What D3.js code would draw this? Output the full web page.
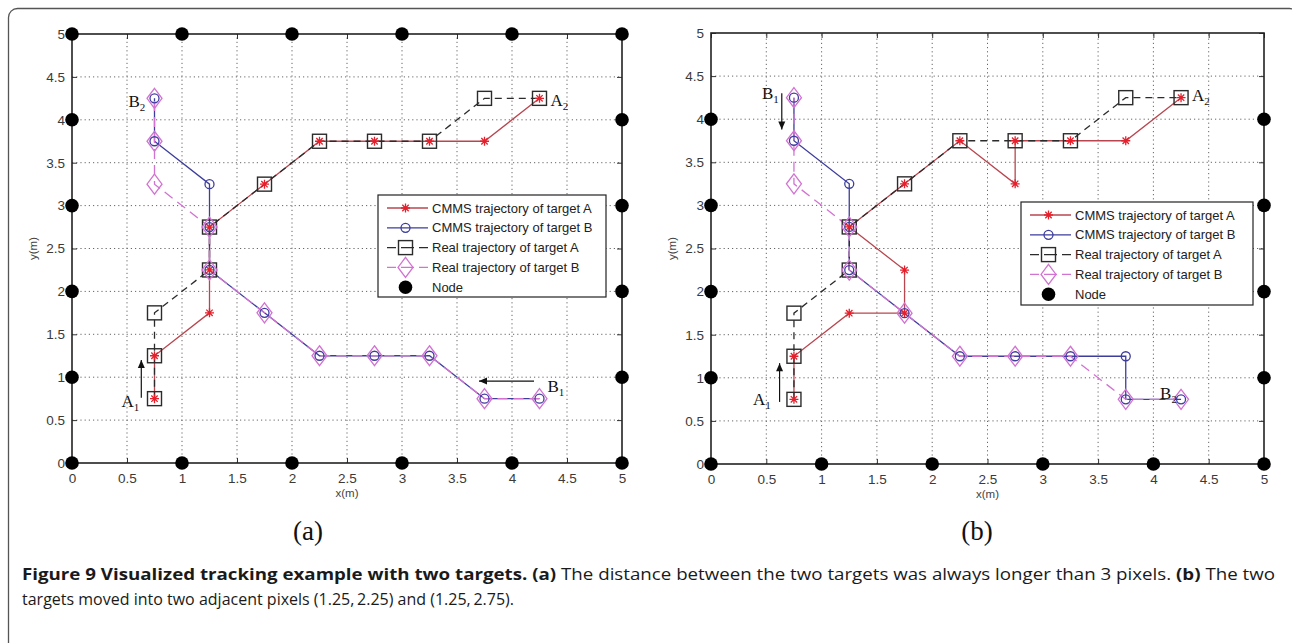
<!DOCTYPE html>
<html>
<head>
<meta charset="utf-8">
<script src="https://cdn.jsdelivr.net/npm/d3@7"></script>
<style>
  body { margin: 0; background: #fff; }
  svg { display: block; }
</style>
</head>
<body>
<svg id="fig" width="1292" height="643"></svg>
<script>
// axis ticks shared by both panels
const tickValues = [0, 0.5, 1, 1.5, 2, 2.5, 3, 3.5, 4, 4.5, 5];
const tickLabels = ['0', '0.5', '1', '1.5', '2', '2.5', '3', '3.5', '4', '4.5', '5'];
const legendLabels = [
  'CMMS trajectory of target A',
  'CMMS trajectory of target B',
  'Real trajectory of target A',
  'Real trajectory of target B',
  'Node'
];

// panel (a)
const realA_a = [[0.75, 0.75], [0.75, 1.25], [0.75, 1.75], [1.25, 2.25], [1.25, 2.75], [1.75, 3.25],
  [2.25, 3.75], [2.75, 3.75], [3.25, 3.75], [3.75, 4.25], [4.25, 4.25]];
const cmmsA_a = [[0.75, 0.75], [0.75, 1.25], [1.25, 1.75], [1.25, 2.25], [1.25, 2.75], [1.75, 3.25],
  [2.25, 3.75], [2.75, 3.75], [3.25, 3.75], [3.75, 3.75], [4.25, 4.25]];
const realB_a = [[4.25, 0.75], [3.75, 0.75], [3.25, 1.25], [2.75, 1.25], [2.25, 1.25], [1.75, 1.75],
  [1.25, 2.25], [1.25, 2.75], [0.75, 3.25], [0.75, 3.75], [0.75, 4.25]];
const cmmsB_a = [[4.25, 0.75], [3.75, 0.75], [3.25, 1.25], [2.75, 1.25], [2.25, 1.25], [1.75, 1.75],
  [1.25, 2.25], [1.25, 2.75], [1.25, 3.25], [0.75, 3.75], [0.75, 4.25]];
const nodes_a = [[0, 0], [1, 0], [2, 0], [3, 0], [4, 0], [5, 0],
  [0, 1], [0, 2], [0, 3], [0, 4], [5, 1], [5, 2], [5, 3], [5, 4],
  [0, 5], [1, 5], [2, 5], [3, 5], [4, 5], [5, 5]];

// panel (b)
const realA_b = [[0.75, 0.75], [0.75, 1.25], [0.75, 1.75], [1.25, 2.25], [1.25, 2.75], [1.75, 3.25],
  [2.25, 3.75], [2.75, 3.75], [3.25, 3.75], [3.75, 4.25], [4.25, 4.25]];
const cmmsA_b = [[0.75, 0.75], [0.75, 1.25], [1.25, 1.75], [1.75, 1.75], [1.75, 2.25], [1.25, 2.75],
  [1.75, 3.25], [2.25, 3.75], [2.75, 3.25], [2.75, 3.75], [3.25, 3.75], [3.75, 3.75], [4.25, 4.25]];
const realB_b = [[0.75, 4.25], [0.75, 3.75], [0.75, 3.25], [1.25, 2.75], [1.25, 2.25], [1.75, 1.75],
  [2.25, 1.25], [2.75, 1.25], [3.25, 1.25], [3.75, 0.75], [4.25, 0.75]];
const cmmsB_b = [[0.75, 4.25], [0.75, 3.75], [1.25, 3.25], [1.25, 2.75], [1.25, 2.25], [1.75, 1.75],
  [2.25, 1.25], [2.75, 1.25], [3.25, 1.25], [3.75, 1.25], [3.75, 0.75], [4.25, 0.75]];
const nodes_b = [[0, 0], [1, 0], [2, 0], [3, 0], [4, 0], [5, 0],
  [0, 1], [0, 2], [0, 3], [0, 4], [5, 1], [5, 2], [5, 3], [5, 4]];

const COL = {
  cmmsALine: '#b9464f',
  cmmsAMark: '#e5202c',
  cmmsB: '#3d3d9c',
  realA: '#2b2b2b',
  realB: '#d273d2'
};

const svg = d3.select('#fig');

// outer rounded frame of the figure
svg.append('rect')
  .attr('x', 8.5).attr('y', 8.5)
  .attr('width', 1290).attr('height', 700)
  .attr('rx', 9)
  .attr('fill', 'none')
  .attr('stroke', '#555')
  .attr('stroke-width', 1.3);

// marker helpers
function asterisk(sel, size) {
  const s = size, d = s * 0.71;
  return sel.append('path')
    .attr('d', `M0,${-s}V${s}M${-s},0H${s}M${-d},${-d}L${d},${d}M${-d},${d}L${d},${-d}`);
}

function drawMarker(g, type, x, y) {
  const m = g.append('g').attr('transform', `translate(${x},${y})`);
  if (type === 'cmmsA') {
    asterisk(m, 4.5).attr('stroke', COL.cmmsAMark).attr('stroke-width', 1.3).attr('fill', 'none');
  } else if (type === 'cmmsB') {
    m.append('circle').attr('r', 4.5).attr('fill', 'none').attr('stroke', COL.cmmsB).attr('stroke-width', 1.3);
  } else if (type === 'realA') {
    m.append('rect').attr('x', -7).attr('y', -7).attr('width', 14).attr('height', 14)
      .attr('fill', 'none').attr('stroke', COL.realA).attr('stroke-width', 1.4);
  } else if (type === 'realB') {
    m.append('path').attr('d', 'M0,-10L7.5,0L0,10L-7.5,0Z')
      .attr('fill', 'none').attr('stroke', COL.realB).attr('stroke-width', 1.3);
  } else if (type === 'node') {
    m.append('circle').attr('r', 6.8).attr('fill', '#000');
  }
}

const seriesStyle = {
  cmmsA: { stroke: COL.cmmsALine, dash: null },
  cmmsB: { stroke: COL.cmmsB, dash: null },
  realA: { stroke: COL.realA, dash: '7,5' },
  realB: { stroke: COL.realB, dash: '10,6' }
};

function drawPanel(cfg) {
  const x = d3.scaleLinear().domain([0, 5]).range([cfg.left, cfg.right]);
  const y = d3.scaleLinear().domain([0, 5]).range([cfg.bottom, cfg.top]);
  const g = svg.append('g');

  // dotted grid
  g.append('g').selectAll('line.gx')
    .data(tickValues.filter(v => v > 0 && v < 5))
    .join('line')
    .attr('x1', d => x(d)).attr('x2', d => x(d))
    .attr('y1', y(0)).attr('y2', y(5))
    .attr('stroke', '#666').attr('stroke-width', 1).attr('stroke-dasharray', '1.2,3');
  g.append('g').selectAll('line.gy')
    .data(tickValues.filter(v => v > 0 && v < 5))
    .join('line')
    .attr('y1', d => y(d)).attr('y2', d => y(d))
    .attr('x1', x(0)).attr('x2', x(5))
    .attr('stroke', '#666').attr('stroke-width', 1).attr('stroke-dasharray', '1.2,3');

  // axes with inward ticks on all four sides
  const axisFont = g => g.selectAll('text')
    .attr('font-family', 'Liberation Sans, Arial, sans-serif')
    .attr('font-size', 13.5).attr('fill', '#3a3a3a');
  const bottom = g.append('g').attr('transform', `translate(0,${y(0)})`)
    .call(d3.axisBottom(x).tickValues(tickValues).tickFormat((d, i) => tickLabels[i])
      .tickSizeInner(-5).tickSizeOuter(0).tickPadding(10));
  const left = g.append('g').attr('transform', `translate(${x(0)},0)`)
    .call(d3.axisLeft(y).tickValues(tickValues).tickFormat((d, i) => tickLabels[i])
      .tickSizeInner(-5).tickSizeOuter(0).tickPadding(7));
  const top = g.append('g').attr('transform', `translate(0,${y(5)})`)
    .call(d3.axisTop(x).tickValues(tickValues).tickFormat('').tickSizeInner(-5).tickSizeOuter(0));
  const right = g.append('g').attr('transform', `translate(${x(5)},0)`)
    .call(d3.axisRight(y).tickValues(tickValues).tickFormat('').tickSizeInner(-5).tickSizeOuter(0));
  [bottom, left, top, right].forEach(a => {
    a.select('.domain').remove();
    a.selectAll('line').attr('stroke', '#333');
    axisFont(a);
  });
  g.append('rect')
    .attr('x', x(0)).attr('y', y(5))
    .attr('width', x(5) - x(0)).attr('height', y(0) - y(5))
    .attr('fill', 'none').attr('stroke', '#222').attr('stroke-width', 1.6);

  g.append('text')
    .attr('x', (x(0) + x(5)) / 2).attr('y', y(0) + 34)
    .attr('text-anchor', 'middle')
    .attr('font-family', 'Liberation Sans, Arial, sans-serif').attr('font-size', 11.5).attr('fill', '#444')
    .text('x(m)');
  g.append('text')
    .attr('transform', `translate(${x(0) - 35},${(y(0) + y(5)) / 2}) rotate(-90)`)
    .attr('text-anchor', 'middle')
    .attr('font-family', 'Liberation Sans, Arial, sans-serif').attr('font-size', 11.5).attr('fill', '#444')
    .text('y(m)');

  // trajectories
  const line = d3.line().x(d => x(d[0])).y(d => y(d[1]));
  const order = ['cmmsA', 'cmmsB', 'realA', 'realB'];
  order.forEach(key => {
    const st = seriesStyle[key];
    g.append('path')
      .attr('d', line(cfg.series[key]))
      .attr('fill', 'none')
      .attr('stroke', st.stroke)
      .attr('stroke-width', 1.3)
      .attr('stroke-dasharray', st.dash);
  });
  order.forEach(key => {
    cfg.series[key].forEach(p => drawMarker(g, key, x(p[0]), y(p[1])));
  });

  // sensor nodes
  cfg.nodes.forEach(p => drawMarker(g, 'node', x(p[0]), y(p[1])));

  // legend
  const lg = g.append('g');
  lg.append('rect')
    .attr('x', cfg.legend.x).attr('y', cfg.legend.y)
    .attr('width', cfg.legend.w).attr('height', cfg.legend.h)
    .attr('fill', '#fff').attr('stroke', '#222').attr('stroke-width', 1.2);
  const keys = ['cmmsA', 'cmmsB', 'realA', 'realB', 'node'];
  keys.forEach((key, i) => {
    const ry = cfg.legend.y + 13 + i * 19.8;
    const lx0 = cfg.legend.x + 9, lx1 = cfg.legend.x + 50;
    if (key !== 'node') {
      lg.append('line')
        .attr('x1', lx0).attr('x2', lx1).attr('y1', ry).attr('y2', ry)
        .attr('stroke', seriesStyle[key].stroke).attr('stroke-width', 1.3)
        .attr('stroke-dasharray', seriesStyle[key].dash ? '9,5,13,5' : null);
    }
    drawMarker(lg, key, (lx0 + lx1) / 2 - 2, ry);
    lg.append('text')
      .attr('x', cfg.legend.x + 54).attr('y', ry + 4.5)
      .attr('font-family', 'Liberation Sans, Arial, sans-serif')
      .attr('font-size', 13).attr('fill', '#222')
      .text(legendLabels[i]);
  });

  // start / end annotations
  cfg.notes.forEach(n => {
    const t = g.append('text')
      .attr('x', x(n.at[0]) + n.dx).attr('y', y(n.at[1]) + n.dy)
      .attr('font-family', 'Liberation Serif, Times New Roman, serif')
      .attr('font-size', 17).attr('fill', '#111');
    t.append('tspan').text(n.label);
    t.append('tspan').attr('font-size', 11).attr('dy', 4).text(n.sub);
  });
  cfg.arrows.forEach(a => {
    const x1 = x(a.from[0]), y1 = y(a.from[1]), x2 = x(a.to[0]), y2 = y(a.to[1]);
    g.append('line').attr('x1', x1).attr('y1', y1).attr('x2', x2).attr('y2', y2)
      .attr('stroke', '#111').attr('stroke-width', 1.2);
    const ang = Math.atan2(y2 - y1, x2 - x1);
    const L = 8, W = 3.5;
    const bx = x2 - L * Math.cos(ang), by = y2 - L * Math.sin(ang);
    g.append('path')
      .attr('d', `M${x2},${y2}L${bx - W * Math.sin(ang)},${by + W * Math.cos(ang)}L${bx + W * Math.sin(ang)},${by - W * Math.cos(ang)}Z`)
      .attr('fill', '#111');
  });

  // panel label
  svg.append('text')
    .attr('x', cfg.labelX).attr('y', 540)
    .attr('text-anchor', 'middle')
    .attr('font-family', 'Liberation Serif, Times New Roman, serif')
    .attr('font-size', 27).attr('fill', '#111')
    .text(cfg.label);
}

drawPanel({
  left: 72, right: 622, bottom: 463, top: 34,
  series: { cmmsA: cmmsA_a, cmmsB: cmmsB_a, realA: realA_a, realB: realB_a },
  nodes: nodes_a,
  legend: { x: 378, y: 195, w: 228, h: 102 },
  notes: [
    { label: 'B', sub: '2', at: [0.75, 4.25], dx: -26, dy: 9 },
    { label: 'A', sub: '2', at: [4.25, 4.25], dx: 11, dy: 8 },
    { label: 'A', sub: '1', at: [0.75, 0.75], dx: -33, dy: 8 },
    { label: 'B', sub: '1', at: [4.25, 0.75], dx: 8, dy: -7 }
  ],
  arrows: [
    { from: [0.63, 0.76], to: [0.63, 1.2] },
    { from: [4.2, 0.955], to: [3.7, 0.955] }
  ],
  label: '(a)', labelX: 308
});

drawPanel({
  left: 711, right: 1264, bottom: 464, top: 33,
  series: { cmmsA: cmmsA_b, cmmsB: cmmsB_b, realA: realA_b, realB: realB_b },
  nodes: nodes_b,
  legend: { x: 1021, y: 202, w: 232, h: 103 },
  notes: [
    { label: 'B', sub: '1', at: [0.75, 4.25], dx: -32, dy: 1 },
    { label: 'A', sub: '2', at: [4.25, 4.25], dx: 11, dy: 3 },
    { label: 'A', sub: '1', at: [0.75, 0.75], dx: -41, dy: 6 },
    { label: 'B', sub: '2', at: [4.25, 0.75], dx: -21, dy: 0 }
  ],
  arrows: [
    { from: [0.64, 4.3], to: [0.64, 3.88] },
    { from: [0.62, 0.72], to: [0.62, 1.17] }
  ],
  label: '(b)', labelX: 977
});

// caption, squeezed to the narrow face of the original
const cap = svg.append('g')
  .attr('font-family', 'Open Sans, Noto Sans, sans-serif')
  .attr('font-size', 15.5)
  .attr('fill', '#1a1a1a');
const line1 = cap.append('text').attr('x', 22).attr('y', 580)
  .attr('textLength', 1253).attr('lengthAdjust', 'spacingAndGlyphs');
line1.append('tspan').attr('font-weight', 'bold').text('Figure 9 Visualized tracking example with two targets. (a)');
line1.append('tspan').text(' The distance between the two targets was always longer than 3 pixels. ');
line1.append('tspan').attr('font-weight', 'bold').text('(b)');
line1.append('tspan').text(' The two');
cap.append('text').attr('x', 22).attr('y', 605)
  .attr('textLength', 492).attr('lengthAdjust', 'spacingAndGlyphs')
  .text('targets moved into two adjacent pixels (1.25,\u20092.25) and (1.25,\u20092.75).');
</script>
</body>
</html>
